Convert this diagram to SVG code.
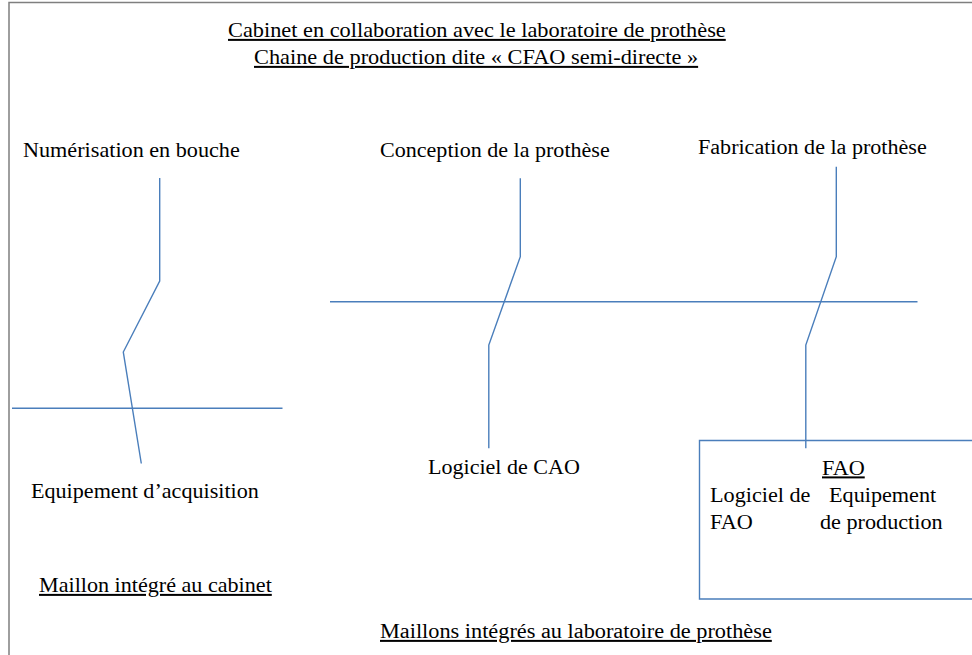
<svg xmlns="http://www.w3.org/2000/svg" width="972" height="655" viewBox="0 0 972 655" font-family="Liberation Serif, Times New Roman, serif">
<style>
text{font-family:'Liberation Serif','Times New Roman',serif;font-size:20px;fill:#000}
.u{text-decoration:underline}
.c{fill:none;stroke:#4A7EBB;stroke-width:1.4}
.frame{fill:none;stroke:#7F7F7F;stroke-width:1.5}
</style>
<rect width="972" height="655" fill="#fff"/>
<path class="frame" d="M9,655 V2.5 H972"/>
<g id="title">
<text class="u" transform="translate(228,37) scale(1.117,1)">Cabinet en collaboration avec le laboratoire de prothèse</text>
<text class="u" transform="translate(254,64) scale(1.117,1)">Chaine de production dite « CFAO semi-directe »</text>
</g>
<g id="numerisation"><text transform="translate(23,157) scale(1.11,1)">Numérisation en bouche</text></g>
<g id="conception"><text transform="translate(380,157) scale(1.104,1)">Conception de la prothèse</text></g>
<g id="fabrication"><text transform="translate(698,154) scale(1.105,1)">Fabrication de la prothèse</text></g>
<g id="equipement-acquisition"><text transform="translate(31,498) scale(1.106,1)">Equipement d’acquisition</text></g>
<g id="logiciel-cao"><text transform="translate(428,474) scale(1.103,1)">Logiciel de CAO</text></g>
<g id="fao">
<path d="M972,440.5 H699.5 V599 H972" fill="none" stroke="#4A7EBB" stroke-width="1.4"/>
<text class="u" transform="translate(822,474.5) scale(1.11,1)">FAO</text>
<text transform="translate(710,502) scale(1.11,1)">Logiciel de</text>
<text transform="translate(829,502) scale(1.11,1)">Equipement</text>
<text transform="translate(710,528.5) scale(1.11,1)">FAO</text>
<text transform="translate(820,528.5) scale(1.11,1)">de production</text>
</g>
<g id="maillon-cabinet"><text class="u" transform="translate(39,592) scale(1.107,1)">Maillon intégré au cabinet</text></g>
<g id="maillons-labo"><text class="u" transform="translate(380,638) scale(1.115,1)">Maillons intégrés au laboratoire de prothèse</text></g>
<g id="connectors">
<line class="c" x1="12" y1="408.3" x2="282.5" y2="408.3"/>
<polyline class="c" points="159.7,178 159.7,281 123.3,352 141.3,463.5"/>
<line class="c" x1="330" y1="301.7" x2="917.5" y2="301.7"/>
<polyline class="c" points="520.3,178.3 520.3,256.7 488.8,345 488.8,448.3"/>
<polyline class="c" points="836.3,166.7 836.3,256.7 805.8,345 805.8,448.3"/>
</g>
</svg>
